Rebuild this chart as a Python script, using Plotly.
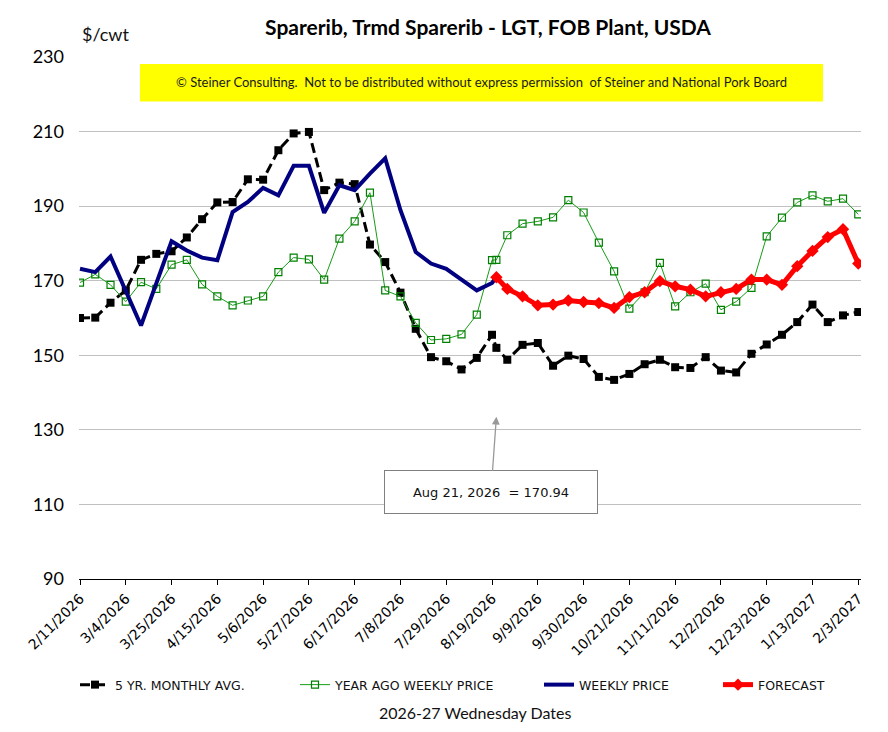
import plotly.graph_objects as go

# ---------------- data ----------------
dates = ["2026-02-11", "2026-02-18", "2026-02-25", "2026-03-04", "2026-03-11", "2026-03-18",
         "2026-03-25", "2026-04-01", "2026-04-08", "2026-04-15", "2026-04-22", "2026-04-29",
         "2026-05-06", "2026-05-13", "2026-05-20", "2026-05-27", "2026-06-03", "2026-06-10",
         "2026-06-17", "2026-06-24", "2026-07-01", "2026-07-08", "2026-07-15", "2026-07-22",
         "2026-07-29", "2026-08-05", "2026-08-12", "2026-08-19", "2026-08-21", "2026-08-26",
         "2026-09-02", "2026-09-09", "2026-09-16", "2026-09-23", "2026-09-30", "2026-10-07",
         "2026-10-14", "2026-10-21", "2026-10-28", "2026-11-04", "2026-11-11", "2026-11-18",
         "2026-11-25", "2026-12-02", "2026-12-09", "2026-12-16", "2026-12-23", "2026-12-30",
         "2027-01-06", "2027-01-13", "2027-01-20", "2027-01-27", "2027-02-03"]

five_yr_avg = [160.0, 160.1, 164.1, 167.4, 175.6, 177.2, 177.9, 181.6, 186.5, 191.0,
               191.1, 197.2, 197.1, 205.0, 209.5, 209.9, 194.3, 196.3, 195.9, 179.7,
               175.0, 166.8, 157.1, 149.5, 148.4, 146.2, 149.3, 155.5, 152.0, 148.8,
               152.8, 153.3, 147.2, 149.9, 149.0, 144.2, 143.4, 145.0, 147.6, 148.8,
               146.8, 146.6, 149.5, 145.9, 145.4, 150.4, 152.9, 155.5, 158.9, 163.6,
               158.9, 160.7, 161.6]

year_ago = [169.5, 171.7, 168.9, 164.4, 169.6, 167.8, 174.3, 175.6, 169.0, 165.8,
            163.4, 164.7, 165.8, 172.3, 176.2, 175.7, 170.3, 181.3, 185.9, 193.6,
            167.4, 165.8, 158.7, 154.1, 154.4, 155.6, 160.9, 175.5, 175.6, 182.2,
            185.3, 185.9, 187.0, 191.6, 188.3, 180.2, 172.5, 162.5, 166.9, 174.8,
            163.1, 166.9, 169.2, 162.2, 164.4, 168.1, 181.9, 186.9, 191.0, 192.9,
            191.3, 192.0, 187.8]

weekly_dates = dates[:29]
weekly_price = [173.2, 172.3, 176.5, 167.3, 158.0, 169.3, 180.6, 178.1, 176.2, 175.5,
                188.4, 191.1, 194.9, 192.9, 200.8, 200.8, 188.2, 195.6, 194.3, 198.7,
                202.8, 188.9, 177.7, 174.6, 173.2, 170.3, 167.4, 169.4, 170.94]

forecast_dates = dates[28:]
forecast = [170.94, 167.8, 165.8, 163.4, 163.6, 164.7, 164.3, 164.0, 162.7, 165.6,
            166.9, 169.9, 168.5, 167.6, 165.8, 166.9, 167.8, 170.3, 170.3, 168.9,
            173.9, 178.0, 181.7, 183.8, 174.6]

tick_vals = ["2026-02-11", "2026-03-04", "2026-03-25", "2026-04-15", "2026-05-06", "2026-05-27",
             "2026-06-17", "2026-07-08", "2026-07-29", "2026-08-19", "2026-09-09", "2026-09-30",
             "2026-10-21", "2026-11-11", "2026-12-02", "2026-12-23", "2027-01-13", "2027-02-03"]
tick_text = ["2/11/2026", "3/4/2026", "3/25/2026", "4/15/2026", "5/6/2026", "5/27/2026",
             "6/17/2026", "7/8/2026", "7/29/2026", "8/19/2026", "9/9/2026", "9/30/2026",
             "10/21/2026", "11/11/2026", "12/2/2026", "12/23/2026", "1/13/2027", "2/3/2027"]

# ---------------- figure ----------------
W, H = 888, 732
L, R, T, B = 79, 27, 57, 153
PW, PH = W - L - R, H - T - B


def px(xp):
    return (xp - L) / PW


def py(yp):
    return (H - B - yp) / PH


calibri = "Lato, Calibri, sans-serif"
tahoma = "DejaVu Sans, Tahoma, sans-serif"

fig = go.Figure()

fig.add_trace(go.Scatter(
    x=dates, y=five_yr_avg, name="5 YR. MONTHLY AVG.", mode="lines+markers",
    line=dict(color="black", width=3, dash="10px,5px"),
    marker=dict(symbol="square", size=8, color="black"),
    legend="legend"))

fig.add_trace(go.Scatter(
    x=dates, y=year_ago, name="YEAR AGO WEEKLY PRICE", mode="lines+markers",
    line=dict(color="#169C16", width=1),
    marker=dict(symbol="square-open", size=7, color="#008000", line=dict(width=1.2)),
    legend="legend2"))

fig.add_trace(go.Scatter(
    x=weekly_dates, y=weekly_price, name="WEEKLY PRICE", mode="lines",
    line=dict(color="#000080", width=4),
    legend="legend3"))

fig.add_trace(go.Scatter(
    x=forecast_dates, y=forecast, name="FORECAST", mode="lines+markers",
    line=dict(color="#FF0000", width=5),
    marker=dict(symbol="diamond", size=9.5, color="#FF0000"),
    legend="legend4"))

leg_common = dict(orientation="h", yanchor="middle", y=py(685), xanchor="left",
                  font=dict(family=tahoma, size=12.5, color="#111"),
                  bgcolor="rgba(0,0,0,0)", itemwidth=30, tracegroupgap=0)

fig.update_layout(
    width=W, height=H, autosize=False,
    margin=dict(l=L, r=R, t=T, b=B, pad=0),
    paper_bgcolor="white", plot_bgcolor="white",
    showlegend=True,
    legend=dict(x=px(75), **leg_common),
    legend2=dict(x=px(295), **leg_common),
    legend3=dict(x=px(539), **leg_common),
    legend4=dict(x=px(718), **leg_common),
    title=dict(text="<b>Sparerib, Trmd Sparerib - LGT, FOB Plant, USDA</b>",
               x=488 / W, xanchor="center", y=1 - 28 / H, yanchor="middle",
               font=dict(family=calibri, size=21, color="black")),
    xaxis=dict(
        type="date", range=["2026-02-10 13:00", "2027-02-04 06:00"],
        tickmode="array", tickvals=tick_vals, ticktext=tick_text, tickangle=-45,
        tickfont=dict(family=tahoma, size=14, color="black"),
        ticks="outside", ticklen=5, tickcolor="black", tickwidth=1,
        showline=True, linecolor="black", linewidth=1,
        showgrid=False, zeroline=False, automargin=False),
    yaxis=dict(
        range=[90, 230], tickmode="array", tickvals=[90, 110, 130, 150, 170, 190, 210, 230],
        tickfont=dict(family=calibri, size=18, color="black"),
        ticks="", ticklabelstandoff=14,
        showgrid=True, gridcolor="#C0C0C0", gridwidth=1,
        showline=False, zeroline=False, automargin=False),
    shapes=[dict(type="rect", xref="paper", yref="paper",
                 x0=px(140), x1=px(823), y0=py(101.5), y1=py(64),
                 fillcolor="#FFFF00", line=dict(width=0), layer="above")],
    annotations=[
        dict(text="© Steiner Consulting.\u00a0 Not to be distributed without express permission \u00a0of Steiner and National Pork Board",
             xref="paper", yref="paper", x=px(481.5), y=py(82.5), xanchor="center", yanchor="middle",
             showarrow=False, font=dict(family=calibri, size=13, color="#1a1a1a")),
        dict(text="$/cwt", xref="paper", yref="paper", x=px(80), y=py(34),
             xanchor="left", yanchor="middle", showarrow=False,
             font=dict(family=calibri, size=18, color="#111")),
        dict(text="2026-27 Wednesday Dates", xref="paper", yref="paper",
             x=px(475.5), y=py(712), xanchor="center", yanchor="middle", showarrow=False,
             font=dict(family=calibri, size=16, color="#111")),
        dict(text="Aug 21, 2026 \u00a0= 170.94", x="2026-08-21", y=133.5, xref="x", yref="y",
             showarrow=True, ax=-5.4, ay=75.5, axref="pixel", ayref="pixel",
             arrowhead=2, arrowsize=1.2, arrowwidth=1.3, arrowcolor="#999999",
             width=212, height=42, borderpad=0, borderwidth=1, bordercolor="#808080",
             bgcolor="white", font=dict(family=tahoma, size=13, color="#111")),
    ],
)

fig.write_html("out.html", config={"displayModeBar": False},
               post_script="document.body.style.margin='0px';")
